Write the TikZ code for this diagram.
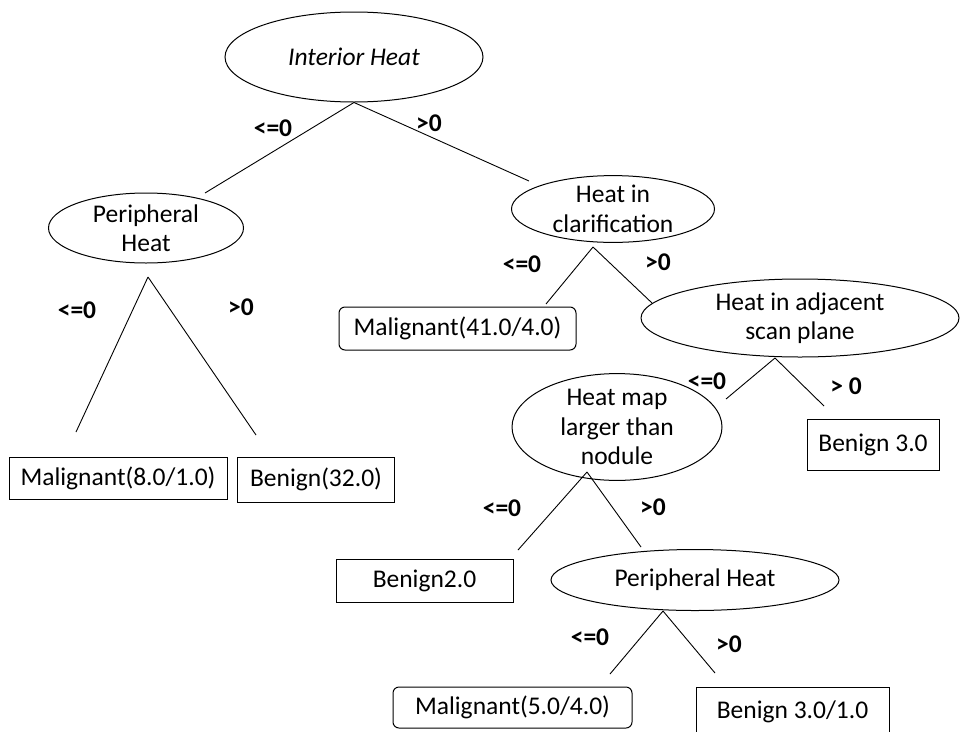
\documentclass[tikz,border=0pt]{standalone}
\usepackage{fontspec}
\setmainfont{Carlito}
\usetikzlibrary{shapes.geometric}

\begin{document}
\begin{tikzpicture}[x=1pt,y=-1pt,
  every node/.style={font=\fontsize{25.5}{29.5}\selectfont, inner sep=0pt},
  split/.style={draw, ellipse, line width=1pt, align=center},
  leaf/.style={draw, rectangle, line width=1pt},
  rleaf/.style={leaf, rounded corners=6pt},
  cond/.style={font=\fontsize{25.5}{29.5}\selectfont\bfseries},
  edge/.style={line width=0.9pt}]
\useasboundingbox (0,0) rectangle (960,731);

% splits
\node[split, minimum width=258pt, minimum height=90pt] (ih) at (354,57) {\itshape Interior Heat};
\node[split, minimum width=195pt, minimum height=70pt] (ph) at (146,228) {Peripheral\\Heat};
\node[split, minimum width=203pt, minimum height=64pt] (hc) at (613,209) {Heat in\\clarification};
\node[split, minimum width=318pt, minimum height=78pt] (has) at (800,318) {Heat in adjacent\\scan plane};
\node[split, minimum width=210pt, minimum height=87pt] (hml) at (617,427) {Heat map\\larger than\\nodule};
\node[split, minimum width=288pt, minimum height=61pt] (ph2) at (695,580) {Peripheral Heat};

% leaves
\node[leaf, minimum width=218pt, minimum height=42pt] (m81) at (118,478) {Malignant(8.0/1.0)};
\node[leaf, minimum width=157pt, minimum height=45pt] (b32) at (316,479.5) {Benign(32.0)};
\node[rleaf, minimum width=237pt, minimum height=43pt] (m41) at (457.5,328.5) {Malignant(41.0/4.0)};
\node[leaf, minimum width=132pt, minimum height=51pt] (b3) at (873,444.5) {Benign 3.0};
\node[leaf, minimum width=177pt, minimum height=43pt] (b2) at (424.5,580.5) {Benign2.0};
\node[rleaf, minimum width=239pt, minimum height=41pt] (m54) at (512.5,707.5) {Malignant(5.0/4.0)};
\node[leaf, minimum width=193pt, minimum height=50pt] (b31) at (792.5,712) {Benign 3.0/1.0};

% branch ends
\coordinate (ph-in) at (205,193);
\coordinate (hc-in) at (529,181);
\coordinate (ph-top) at (148,277);
\coordinate (m81-in) at (76,432);
\coordinate (b32-in) at (256,435);
\coordinate (hc-top) at (593,247);
\coordinate (m41-in) at (546,304);
\coordinate (has-in) at (652,303);
\coordinate (has-top) at (775,358);
\coordinate (hml-in) at (726,399);
\coordinate (b3-in) at (824,406);
\coordinate (hml-top) at (587,472);
\coordinate (b2-in) at (518,550);
\coordinate (ph2-in) at (641,547);
\coordinate (ph2-top) at (663,611);
\coordinate (m54-in) at (610,674);
\coordinate (b31-in) at (715,673);

\draw[edge] (ih.south) -- (ph-in);
\draw[edge] (ih.south) -- (hc-in);
\draw[edge] (ph-top) -- (m81-in);
\draw[edge] (ph-top) -- (b32-in);
\draw[edge] (hc-top) -- (m41-in);
\draw[edge] (hc-top) -- (has-in);
\draw[edge] (has-top) -- (hml-in);
\draw[edge] (has-top) -- (b3-in);
\draw[edge] (hml-top) -- (b2-in);
\draw[edge] (hml-top) -- (ph2-in);
\draw[edge] (ph2-top) -- (m54-in);
\draw[edge] (ph2-top) -- (b31-in);

% conditions
\node[cond] (ih-le) at (273,128) {<=0};
\node[cond] (ih-gt) at (429,123) {>0};
\node[cond] (ph-le) at (77,310) {<=0};
\node[cond] (ph-gt) at (241,307) {>0};
\node[cond] (hc-le) at (522,264) {<=0};
\node[cond] (hc-gt) at (658,262) {>0};
\node[cond] (has-le) at (707,381) {<=0};
\node[cond] (has-gt) at (846,386) {> 0};
\node[cond] (hml-le) at (502,508) {<=0};
\node[cond] (hml-gt) at (653,507) {>0};
\node[cond] (ph2-le) at (590,637) {<=0};
\node[cond] (ph2-gt) at (729,644) {>0};

\end{tikzpicture}
\end{document}
